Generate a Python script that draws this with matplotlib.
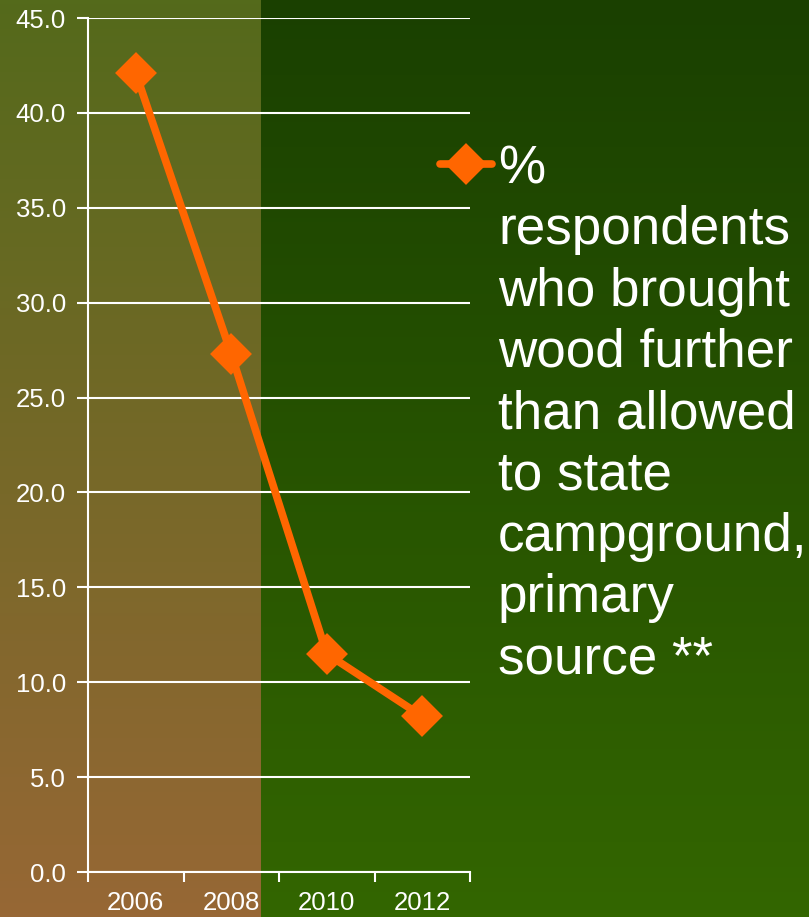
import numpy as np
import matplotlib.pyplot as plt
from matplotlib.lines import Line2D
from matplotlib.colors import LinearSegmentedColormap

years = ['2006', '2008', '2010', '2012']
pct_values = [42.1, 27.3, 11.5, 8.2]
y_ticks = [0, 5, 10, 15, 20, 25, 30, 35, 40, 45]
series_label = ("%\nrespondents\nwho brought\nwood further\nthan allowed\n"
                "to state\ncampground,\nprimary\nsource **")

plt.rcParams['font.family'] = ['Liberation Sans', 'DejaVu Sans']

W, H = 809, 917
fig = plt.figure(figsize=(W / 100, H / 100), dpi=100)

# tło: zielony gradient + brązowy pas po lewej
bg = fig.add_axes([0, 0, 1, 1], zorder=-10)
bg.set_axis_off()
grad = np.linspace(0, 1, 256).reshape(-1, 1)
green = LinearSegmentedColormap.from_list('g', ['#1a4000', '#336600'])
brown = LinearSegmentedColormap.from_list('b', ['#546a1b', '#976735'])
bg.imshow(grad, aspect='auto', cmap=green, extent=[0, 1, 0, 1], origin='upper')
bg.imshow(grad, aspect='auto', cmap=brown, extent=[0, 261 / W, 0, 1], origin='upper')
bg.set_xlim(0, 1)
bg.set_ylim(0, 1)

ax = fig.add_axes([88 / W, 45 / H, 382 / W, 854 / H])
ax.patch.set_alpha(0)

orange = '#ff6600'
x = np.arange(len(years))
ax.plot(x, pct_values, color=orange, lw=5.5, marker='D', ms=18, mew=3,
        mec=orange, solid_joinstyle='round', solid_capstyle='round',
        clip_on=False, zorder=5)

ax.set_xlim(-0.5, len(years) - 0.5)
ax.set_ylim(0, 45)
ax.set_yticks(y_ticks)
ax.set_yticklabels([f'{v:.1f}' for v in y_ticks])
ax.set_xticks(x)
ax.set_xticklabels(years)
ax.set_xticks(np.arange(len(years) + 1) - 0.5, minor=True)
ax.tick_params(axis='x', which='major', length=0, pad=14)
ax.tick_params(axis='x', which='minor', length=7, width=1.5, color='white')
ax.tick_params(axis='y', length=8, width=1.5, color='white', pad=8)
ax.tick_params(labelsize=18.5, labelcolor='white')
ax.grid(axis='y', color='white', lw=1.5)
for side in ['top', 'right']:
    ax.spines[side].set_visible(False)
for side in ['left', 'bottom']:
    ax.spines[side].set_color('white')
    ax.spines[side].set_linewidth(1.5)

# legenda
fig.add_artist(Line2D([440 / W, 492 / W], [1 - 164 / H, 1 - 164 / H], color=orange,
                      lw=5.5, solid_capstyle='round'))
fig.add_artist(Line2D([466 / W], [1 - 164 / H], color=orange, marker='D', ms=18,
                      mew=3, mec=orange))
fig.text(498 / W, 1 - 144 / H, series_label, color='white', fontsize=38.2,
         va='top', ha='left', linespacing=1.29)

fig.savefig('out.png', dpi=100)
